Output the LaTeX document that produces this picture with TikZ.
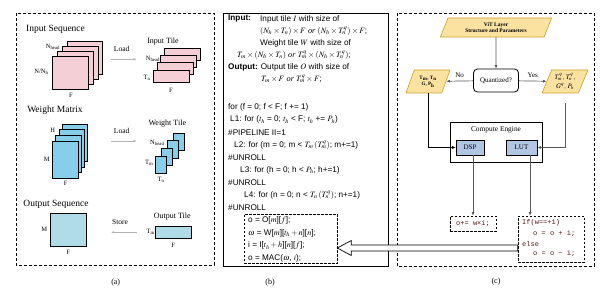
\documentclass[tikz,border=0pt]{standalone}
\usepackage{mathptmx}
\usepackage{fontspec}
\setmainfont{Liberation Serif}
\newfontfamily\arialfont{Liberation Sans}
\newfontfamily\codefont{Liberation Mono}
\usetikzlibrary{arrows.meta, positioning, shapes.geometric, calc}
\definecolor{tilepink}{RGB}{244,208,214}
\definecolor{wblue}{RGB}{135,206,235}
\definecolor{oblue}{RGB}{176,220,232}
\definecolor{paramfill}{RGB}{251,226,160}
\definecolor{paramedge}{RGB}{204,158,40}
\definecolor{unitfill}{RGB}{178,198,228}
\definecolor{codered}{RGB}{90,20,20}
\tikzset{
    frame style/.style={dash pattern=on 3pt off 2pt, line width=.7pt},
    pink box/.style={draw, fill=tilepink, line width=.8pt, inner sep=0pt},
    blue box/.style={draw, fill=wblue, line width=.8pt, inner sep=0pt},
    out box/.style={draw, fill=oblue, line width=.8pt, inner sep=0pt},
    move arrow/.style={-{Latex[length=3pt,width=2.5pt]}, black!30, line width=.6pt},
    title text/.style={font=\fontsize{9.5}{11}\selectfont, inner sep=0pt},
    tile text/.style={font=\fontsize{8}{9}\selectfont, inner sep=0pt},
    dim text/.style={font=\fontsize{6.5}{7}\selectfont, inner sep=0pt},
    code line/.style={anchor=west, inner sep=0pt, font=\arialfont\fontsize{8.2}{9}\selectfont},
    param box/.style={draw=paramedge, fill=paramfill, trapezium, trapezium left angle=65, trapezium right angle=115, trapezium stretches=true, line width=.6pt, inner sep=0pt, align=center},
    unit box/.style={draw, fill=unitfill, line width=.6pt, inner sep=0pt, minimum height=15pt, font=\fontsize{7}{8}\selectfont},
    flow arrow/.style={-{Latex[length=3.5pt,width=3pt]}, line width=.7pt, black!65},
    dash box/.style={draw, dash pattern=on 2.5pt off 1.5pt, line width=.6pt, inner sep=0pt},
    lut line/.style={anchor=west, inner sep=0pt, font=\codefont\fontsize{7}{8}\selectfont, text=codered},
    sub label/.style={font=\fontsize{8}{9}\selectfont},
}

\begin{document}
\begin{tikzpicture}[x=1pt, y=-1pt]
    \useasboundingbox (0,0) rectangle (612,302);

    % (a) tiles
    \draw[frame style] (16,13) rectangle (214,265);
    \node[title text] (inseqtitle) at (55.5,29) {Input Sequence};
    \foreach \i in {3,2,1,0}
        \node[pink box, minimum width=35.6pt, minimum height=32.6pt] (inseq\i) at ({70.5+4.8*\i},{73-5*\i}) {};
    \node[dim text] (inseqhead) at (53,47) {N\textsubscript{head}};
    \node[dim text] (inseqrows) at (41.5,72) {N/N\textsubscript{h}};
    \node[dim text] (inseqcols) at (71,95) {F};

    \node[tile text, font=\fontsize{7.5}{9}\selectfont] (loadin) at (121.7,49.3) {Load};
    \coordinate (loadins) at (111,59.3);
    \coordinate (loadine) at (136.7,59.3);
    \draw[move arrow] (loadins) -- (loadine);

    \node[tile text] (intiletitle) at (163,41.7) {Input Tile};
    \foreach \i in {3,2,1,0}
        \node[pink box, minimum width=36pt, minimum height=12pt] (intile\i) at ({171.3+3.6*\i},{76-7.1*\i}) {};
    \node[dim text] (intilehead) at (153,59) {N\textsubscript{head}};
    \node[dim text] (intilerows) at (147,77.7) {T\textsubscript{n}};
    \node[dim text] (intilecols) at (171,90) {F};

    \node[title text] (wmattitle) at (55,110) {Weight Matrix};
    \foreach \i in {3,2,1,0}
        \node[blue box, minimum width=25.6pt, minimum height=37.3pt] (wmat\i) at ({65.5+3.1*\i},{159.7-5.7*\i}) {};
    \node[dim text] (wmatheads) at (52.7,130) {H};
    \node[dim text] (wmatrows) at (46.7,159) {M};
    \node[dim text] (wmatcols) at (65.7,183) {F};

    \node[tile text, font=\fontsize{7.5}{9}\selectfont] (loadw) at (121.7,131) {Load};
    \coordinate (loadws) at (111,141);
    \coordinate (loadwe) at (136.7,141);
    \draw[move arrow] (loadws) -- (loadwe);

    \node[tile text] (wtiletitle) at (167.3,123.3) {Weight Tile};
    \foreach \i in {3,2,1,0}
        \node[blue box, minimum width=11pt, minimum height=17.3pt] (wtile\i) at ({160.5+6.1*\i},{164.7-7.6*\i}) {};
    \node[dim text] (wtilehead) at (157.3,142.7) {N\textsubscript{head}};
    \node[dim text] (wtilerows) at (149.3,163.3) {T\textsubscript{m}};
    \node[dim text] (wtilecols) at (161,180) {T\textsubscript{n}};

    \node[title text] (outseqtitle) at (56,204) {Output Sequence};
    \node[out box, minimum width=36pt, minimum height=32.7pt] (outseq) at (68.7,229.7) {};
    \node[dim text] (outseqrows) at (44.3,229) {M};
    \node[dim text] (outseqcols) at (68.3,252.3) {F};

    \node[tile text, font=\fontsize{7.5}{9}\selectfont] (store) at (120,222.3) {Store};
    \coordinate (stores) at (136.7,232.3);
    \coordinate (storee) at (111,232.3);
    \draw[move arrow] (stores) -- (storee);

    \node[tile text] (otiletitle) at (172.3,216.7) {Output Tile};
    \node[out box, minimum width=36pt, minimum height=12.7pt] (otile) at (173,232.4) {};
    \node[dim text] (otilerows) at (150.7,232.3) {T\textsubscript{m}};
    \node[dim text] (otilecols) at (173.3,245) {F};

    \node[sub label] (suba) at (115.7,283) {(a)};

    % (b) loop nest
    \draw[line width=.8pt] (223,13) rectangle (388,266);
    \node[code line, font=\arialfont\bfseries\fontsize{8.2}{9}\selectfont] (inlabel) at (228,19) {Input:};
    \node[code line] (inline1) at (260,19) {Input tile $I$ with size of};
    \node[code line] (inline2) at (260,31) {$(N_h \times T_n) \times F$ {\rmfamily\itshape or} $(N_h \times T_n^q) \times F$;};
    \node[code line] (inline3) at (260,43) {Weight tile $W$ with size of};
    \node[code line] (inline4) at (237,55) {$T_m \times (N_h \times T_n)$ {\rmfamily\itshape or} $T_m^q \times (N_h \times T_n^q)$;};
    \node[code line] (outline1) at (228,67) {\textbf{Output:} Output tile $O$ with size of};
    \node[code line] (outline2) at (261,79) {$T_m \times F$ {\rmfamily\itshape or} $T_m^q \times F$;};

    \node[code line] (loopf) at (228,107) {for (f = 0; f < F; f += 1)};
    \node[code line] (loopl1) at (230,119.6) {L1: for ($t_h$\ = 0; $t_h$\ < F; $t_h$ += $P_h$)};
    \node[code line] (pragma1) at (228,132.2) {\#PIPELINE II=1};
    \node[code line] (loopl2) at (234,144.8) {L2: for (m = 0; m < $T_m\,(T_m^q)$; m+=1)};
    \node[code line] (pragma2) at (228,157.4) {\#UNROLL};
    \node[code line] (loopl3) at (240,170) {L3: for (h = 0; h < $P_h$; h+=1)};
    \node[code line] (pragma3) at (228,182.6) {\#UNROLL};
    \node[code line] (loopl4) at (244,195.2) {L4: for (n = 0; n < $T_n\,(T_n^q)$; n+=1)};
    \node[code line] (pragma4) at (228,207.8) {\#UNROLL};

    \node[dash box, minimum width=93pt, minimum height=49.5pt] (codebox) at (290.5,238.75) {};
    \node[code line] (body1) at (248,220.4) {o = O[$m$][$f$];};
    \node[code line] (body2) at (248,233) {$\omega$\ = W[$m$][$t_h + n$][$n$];};
    \node[code line] (body3) at (248,245.6) {i = I[$t_h + h$][$n$][$f$];};
    \node[code line] (body4) at (248,258.2) {o = MAC($\omega$, $i$);};

    \node[sub label] (subb) at (270,283) {(b)};

    % (c) compute engine
    \draw[frame style] (397,13) rectangle (594,266);
    \node[param box, minimum width=112pt, minimum height=19pt, font=\bfseries\fontsize{5.5}{6.5}\selectfont] (vit) at (496,27.5) {ViT Layer\\Structure and Parameters};
    \node[draw, rounded corners=4pt, line width=.8pt, minimum width=45pt, minimum height=23pt, inner sep=0pt, font=\fontsize{7}{8}\selectfont] (quant) at (496,80.5) {Quantized?};
    \node[param box, minimum width=44pt, minimum height=23pt, font=\bfseries\fontsize{5}{6}\selectfont] (fpparam) at (428,81.5) {T\textsubscript{m}, T\textsubscript{n}\\G, P\textsubscript{h}};
    \node[param box, minimum width=46pt, minimum height=23pt, font=\fontsize{6.8}{8}\selectfont] (qparam) at (565,81.5) {$T_m^q,\,T_n^q,$\\[1pt]$G^q,\,P_h$};

    \draw[flow arrow] (vit) -- (quant);
    \draw[flow arrow] (quant) -- node[above, font=\fontsize{7}{8}\selectfont, text=black] {No} (fpparam);
    \draw[flow arrow] (quant) -- node[above, font=\fontsize{7}{8}\selectfont, text=black] {Yes} (qparam);

    \node[draw, line width=.7pt, minimum width=92pt, minimum height=40pt, inner sep=0pt] (engine) at (496,142) {};
    \node[font=\fontsize{7.4}{8}\selectfont, inner sep=0pt] (enginelabel) at (496,130) {Compute Engine};
    \node[unit box, minimum width=28pt] (dsp) at (470,147.5) {DSP};
    \node[unit box, minimum width=31pt] (lut) at (521.5,147.5) {LUT};

    \draw[flow arrow, black] (fpparam.south) |- (dsp.west);
    \coordinate (qdrop) at (565,103);
    \draw[flow arrow] (qdrop) |- (lut.east);

    \node[dash box, minimum width=46pt, minimum height=15pt, font=\codefont\fontsize{7}{8}\selectfont, text=codered] (dspcode) at (473,223.5) {o+= w×i;};
    \node[dash box, minimum width=66pt, minimum height=46pt] (lutcode) at (551,239) {};
    \node[lut line] (lutif) at (522,223) {If(w==+1)};
    \node[lut line] (lutadd) at (533,234) {o = o + i;};
    \node[lut line] (lutelse) at (522,244) {else};
    \node[lut line] (lutsub) at (533,254) {o = o − i;};

    \draw[flow arrow] (dsp.south -| dspcode.north) -- (dspcode.north);
    \coordinate (lutx) at (530,0);
    \draw[flow arrow] (lut.south -| lutx) -- (lutcode.north -| lutx);

    % back to the loop body
    \coordinate (mergetip) at ($(codebox.east)+(0,9.25)$);
    \coordinate (mergetail) at (lutcode.west |- mergetip);
    \draw[line width=.7pt, fill=white] (mergetip) -- ++(14,-7.5) -- ++(0,4.5) -- ($(mergetail)+(0,-3)$) -- ($(mergetail)+(0,3)$) -- ($(mergetip)+(14,3)$) -- ++(0,4.5) -- cycle;

    \node[sub label] (subc) at (496,282) {(c)};
\end{tikzpicture}
\end{document}
